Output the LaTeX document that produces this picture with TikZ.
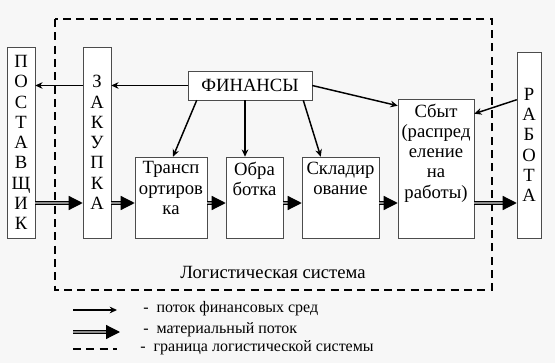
\documentclass[tikz,border=0pt]{standalone}
\usepackage{fontspec}
\setmainfont{Liberation Serif}
\usetikzlibrary{arrows.meta,calc,positioning}
\tikzset{
  party/.style={draw=black!70, fill=white, inner sep=0pt, minimum width=21pt, align=center, font=\fontsize{14}{15.2}\selectfont},
  stage/.style={draw=black!70, fill=white, inner sep=0pt, minimum height=60.75pt},
  fin/.style={draw=black!70, fill=white, minimum width=93pt, minimum height=21.75pt, font=\fontsize{14}{16}\selectfont},
  boxtext/.style={align=center, inner sep=2pt, font=\fontsize{14}{15.2}\selectfont},
  finflow/.style={-{Stealth[length=5.5pt,width=5pt]}, line width=1.1pt},
  matflow/.style={-{Triangle[length=10.5pt,width=10.5pt]}, double=black!45, double distance=1.1pt, line width=0.9pt},
  border/.style={dashed, dash pattern=on 6pt off 4pt, line width=1.6pt},
  legend/.style={anchor=west, inner sep=0pt, font=\fontsize{12}{14}\selectfont}
}
\begin{document}
\begin{tikzpicture}[x=0.75pt, y=-0.75pt]
  \fill[black!3] (0,0) rectangle (555,363);
  \useasboundingbox (0,0) rectangle (555,363);

  % logistic system boundary
  \draw[border] (55,19) rectangle (492,290);
  \node[font=\fontsize{14}{16}\selectfont] (sys) at (273,272) {Логистическая система};

  % parties and stages
  \node[party, minimum height=143.25pt] (post) at (21,142.5) {П\\О\\С\\Т\\А\\В\\Щ\\И\\К};
  \node[party, minimum height=143.25pt] (zak) at (97,142.5) {З\\А\\К\\У\\П\\К\\А};
  \node[party, minimum width=18pt, minimum height=139.5pt] (rab) at (529,145) {Р\\А\\Б\\О\\Т\\А};
  \node[fin] (fin) at (250,85.5) {ФИНАНСЫ};

  \node[stage, minimum width=54pt] (trans) at (171,197.5) {};
  \node[stage, minimum width=42.75pt] (obr) at (254.5,197.5) {};
  \node[stage, minimum width=57.75pt] (sklad) at (340.5,197.5) {};
  \node[stage, minimum width=57pt, minimum height=104.25pt] (sbyt) at (436,168.5) {};
  \node[boxtext, below=1.5pt of trans.north] (trans-txt) {Трансп\\ортиров\\ка};
  \node[boxtext, below=1.5pt of obr.north] (obr-txt) {Обра\\ботка};
  \node[boxtext, below=1.5pt of sklad.north] (sklad-txt) {Складир\\ование};
  \node[boxtext, below=1.5pt of sbyt.north] (sbyt-txt) {Сбыт\\(распред\\еление\\на\\работы)};

  % financial flows
  \draw[finflow] (fin.west) -- (zak.east |- fin.west);
  \draw[finflow] (zak.west |- fin.west) -- (post.east |- fin.west);
  \draw[finflow] ($(fin.south west)+(9,0)$) -- ($(trans.north)+(2,0)$);
  \draw[finflow] ($(fin.south)+(-5,0)$) coordinate (f2) -- (f2 |- obr.north);
  \draw[finflow] ($(fin.south east)+(-9,0)$) -- ($(sklad.north west)+(19,0)$);
  \draw[finflow] (fin.east) -- ($(sbyt.north west)+(0,7)$);
  \draw[finflow] ($(rab.north west)+(0,48)$) -- ($(sbyt.north east)+(0,15)$);

  % material flow
  \coordinate (mrow) at (0,203);
  \foreach \a/\b in {post/zak,zak/trans,trans/obr,obr/sklad,sklad/sbyt,sbyt/rab}
    {\draw[matflow] (\a.east |- mrow) -- (\b.west |- mrow);}

  % legend
  \coordinate (l1a) at (73,310); \coordinate (l1b) at (117,310);
  \coordinate (l2a) at (73,332); \coordinate (l2b) at (120,332);
  \coordinate (l3a) at (73,349); \coordinate (l3b) at (117,349);
  \draw[finflow] (l1a) -- (l1b);
  \draw[matflow] (l2a) -- (l2b);
  \draw[border] (l3a) -- (l3b);
  \node[legend] (l1t) at (143,309) {-\ \ поток финансовых сред};
  \node[legend] (l2t) at (143,330) {-\ \ материальный поток};
  \node[legend] (l3t) at (140,348) {-\ \ граница логистической системы};
\end{tikzpicture}
\end{document}
